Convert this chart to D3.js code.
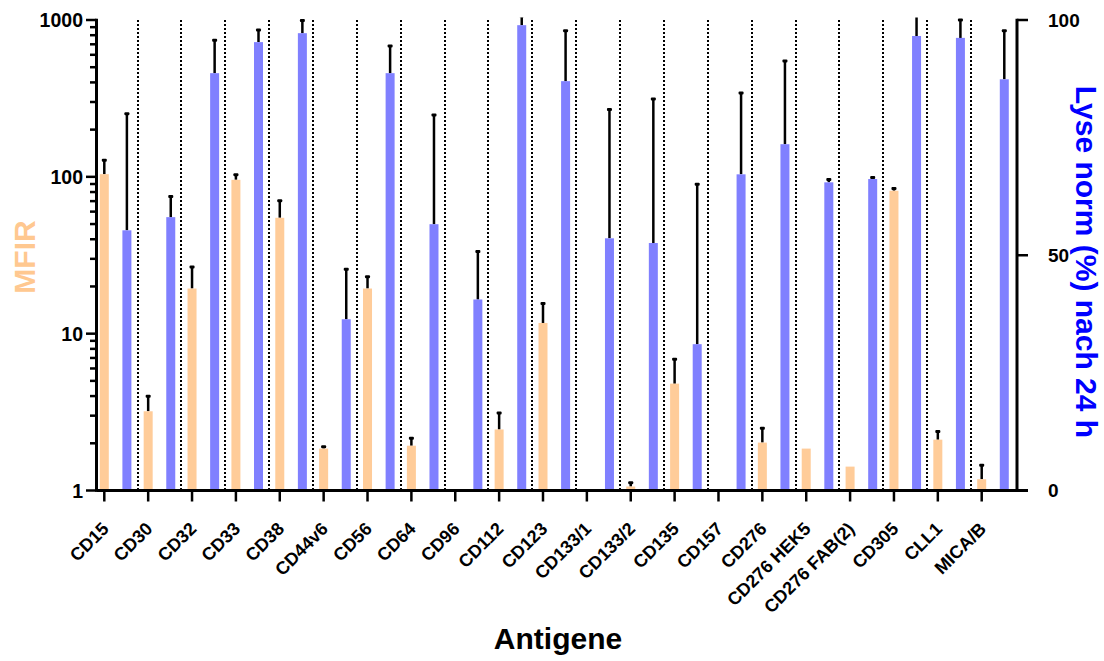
<!DOCTYPE html>
<html>
<head>
<meta charset="utf-8">
<script src="https://cdn.jsdelivr.net/npm/d3@7"></script>
<style>
  html, body { margin: 0; padding: 0; background: #fff; }
  svg { display: block; }
  text { font-family: "Liberation Sans", Arial, sans-serif; font-weight: bold; }
</style>
</head>
<body>
<script>
const categories = ["CD15","CD30","CD32","CD33","CD38","CD44v6","CD56","CD64","CD96","CD112","CD123","CD133/1","CD133/2","CD135","CD157","CD276","CD276 HEK5","CD276 FAB(2)","CD305","CLL1","MICA/B"];
// MFIR (left, log axis)
const mfir   = [104, 3.2, 19.4, 95.7, 54.8, 1.85, 19.4, 1.93, null, 2.45, 11.7, null, 1.06, 4.8, null, 2.02, 1.85, 1.42, 81.5, 2.11, 1.18];
const mfirSD = [23.7, 0.79, 7.2, 7.3, 15.5, 0.05, 3.7, 0.22, null, 0.67, 3.9, null, 0.06, 2.06, null, 0.47, 0, 0, 2.7, 0.27, 0.27];
// Lyse norm (%) nach 24 h (right, linear axis)
const lyse   = [55.3, 58.1, 88.7, 95.3, 97.2, 36.4, 88.7, 56.6, 40.6, 98.9, 87.0, 53.6, 52.6, 31.1, 67.2, 73.6, 65.5, 66.2, 96.6, 96.2, 87.4];
const lyseSD = [24.8, 4.4, 7.0, 2.6, 2.7, 10.6, 5.8, 23.2, 10.2, 2.0, 10.7, 27.4, 30.6, 34.0, 17.3, 17.7, 0.6, 0.3, 4.5, 3.8, 10.3];
const leftTicks = [1, 10, 100, 1000];
const rightTicks = [0, 50, 100];

const W = 1104, H = 661;
const svg = d3.select("body").append("svg").attr("width", W).attr("height", H);

const xLeft = 96.5, xRight = 1017, yTop = 20, yBot = 490.5;
const x = d3.scalePoint().domain(categories).range([104.3, 981.7]);
const step = x.step();
const yL = d3.scaleLog().domain([1, 1000]).range([yBot, yTop]);
const yR = d3.scaleLinear().domain([0, 100]).range([yBot, yTop]);
const orange = "#FFCC99", blue = "#8080FF";
const bw = 9;

svg.append("defs").append("clipPath").attr("id", "clip")
  .append("rect").attr("x", xLeft).attr("y", 17.5).attr("width", xRight - xLeft).attr("height", yBot - 17.5);

const plot = svg.append("g").attr("clip-path", "url(#clip)");

// dotted separators
plot.selectAll("line.sep").data(categories.slice(0, -1)).join("line")
  .attr("class", "sep")
  .attr("x1", d => Math.round(x(d) + step * 0.757)).attr("x2", d => Math.round(x(d) + step * 0.757))
  .attr("y1", yTop).attr("y2", yBot)
  .attr("stroke", "#000").attr("stroke-width", 2).attr("stroke-dasharray", "2,2");

const mData = categories.map((c, i) => ({c, v: mfir[i], sd: mfirSD[i]})).filter(d => d.v != null);
const lData = categories.map((c, i) => ({c, v: lyse[i], sd: lyseSD[i]})).filter(d => d.v != null);

// error bars (drawn before bars so bars cover the base)
function errBars(data, cx, y) {
  const g = plot.append("g");
  const e = data.filter(d => d.sd > 0);
  g.selectAll("line").data(e).join("line")
    .attr("x1", cx).attr("x2", cx)
    .attr("y1", d => y(d.v)).attr("y2", d => y(d.v + d.sd))
    .attr("stroke", "#000").attr("stroke-width", 2.5);
  g.selectAll("rect").data(e).join("rect")
    .attr("x", d => cx(d) - 2.5).attr("width", 5)
    .attr("y", d => y(d.v + d.sd) - 1.5).attr("height", 3)
    .attr("rx", 1)
    .attr("fill", "#000");
}
errBars(mData, d => x(d.c), yL);
errBars(lData, d => x(d.c) + step * 0.515, yR);

plot.selectAll("rect.m").data(mData).join("rect")
  .attr("class", "m")
  .attr("x", d => x(d.c) - bw / 2).attr("width", bw)
  .attr("y", d => yL(d.v)).attr("height", d => yBot - yL(d.v))
  .attr("fill", orange);
plot.selectAll("rect.l").data(lData).join("rect")
  .attr("class", "l")
  .attr("x", d => x(d.c) + step * 0.515 - bw / 2).attr("width", bw)
  .attr("y", d => yR(d.v)).attr("height", d => yBot - yR(d.v))
  .attr("fill", blue);

// left axis
const minor = [];
for (let dec = 1; dec < 1000; dec *= 10) for (let k = 2; k <= 9; k++) minor.push(dec * k);
const gL = svg.append("g");
gL.selectAll("line.minor").data(minor).join("line")
  .attr("x1", xLeft - 6.5).attr("x2", xLeft).attr("y1", d => yL(d)).attr("y2", d => yL(d))
  .attr("stroke", "#000").attr("stroke-width", 2.5);
gL.selectAll("line.major").data(leftTicks).join("line")
  .attr("x1", xLeft - 10.5).attr("x2", xLeft).attr("y1", d => yL(d)).attr("y2", d => yL(d))
  .attr("stroke", "#000").attr("stroke-width", 2.5);
gL.selectAll("text").data(leftTicks).join("text")
  .attr("x", 83).attr("y", d => yL(d)).attr("dy", "0.36em")
  .attr("text-anchor", "end").attr("font-size", 19.5).text(d => d);
gL.append("line").attr("x1", xLeft).attr("x2", xLeft).attr("y1", yTop - 1.25).attr("y2", yBot + 1.25)
  .attr("stroke", "#000").attr("stroke-width", 3);

// right axis
const gR = svg.append("g");
gR.selectAll("line").data(rightTicks).join("line")
  .attr("x1", xRight).attr("x2", xRight + 11).attr("y1", d => yR(d)).attr("y2", d => yR(d))
  .attr("stroke", "#000").attr("stroke-width", 2.5);
gR.selectAll("text").data(rightTicks).join("text")
  .attr("x", 1048).attr("y", d => yR(d)).attr("dy", "0.36em")
  .attr("text-anchor", "start").attr("font-size", 19).text(d => d);
gR.append("line").attr("x1", xRight).attr("x2", xRight).attr("y1", yTop - 1.25).attr("y2", yBot + 1.25)
  .attr("stroke", "#000").attr("stroke-width", 3);

// x axis
const gX = svg.append("g");
gX.append("line").attr("x1", xLeft).attr("x2", xRight + 11).attr("y1", yBot).attr("y2", yBot)
  .attr("stroke", "#000").attr("stroke-width", 3);
gX.selectAll("line.t").data(categories).join("line")
  .attr("class", "t")
  .attr("x1", d => x(d)).attr("x2", d => x(d)).attr("y1", yBot).attr("y2", yBot + 11)
  .attr("stroke", "#000").attr("stroke-width", 2.5);
gX.selectAll("text").data(categories).join("text")
  .attr("transform", d => `translate(${x(d) + 5.5},530) rotate(-45)`)
  .attr("text-anchor", "end").attr("font-size", 18).text(d => d);

// titles
svg.append("text").attr("transform", "translate(35,257) rotate(-90)")
  .attr("text-anchor", "middle").attr("font-size", 30).attr("fill", "#FFC890").text("MFIR");
svg.append("text").attr("transform", "translate(1076,262) rotate(90)")
  .attr("text-anchor", "middle").attr("font-size", 30).attr("fill", "#0000FF").text("Lyse norm (%) nach 24 h");
svg.append("text").attr("x", 558).attr("y", 649)
  .attr("text-anchor", "middle").attr("font-size", 30).attr("fill", "#000").text("Antigene");
</script>
</body>
</html>
